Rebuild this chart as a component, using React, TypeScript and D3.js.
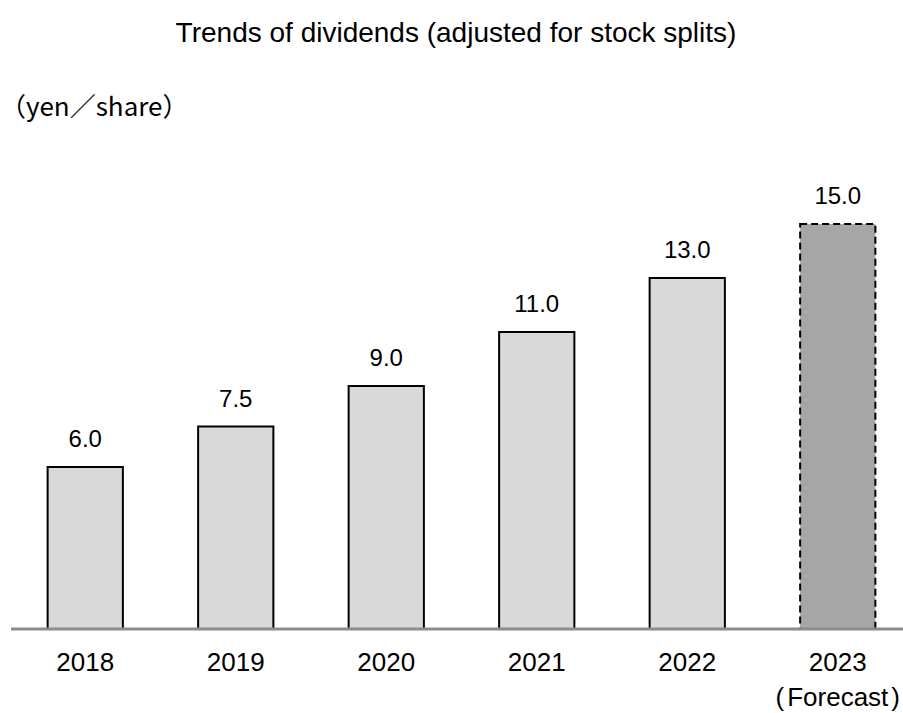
import React from "react";
import * as d3 from "d3";

const years = ["2018", "2019", "2020", "2021", "2022", "2023"];
const dividends = [6.0, 7.5, 9.0, 11.0, 13.0, 15.0];
const forecastFlags = [false, false, false, false, false, true];
const valueLabels = ["6.0", "7.5", "9.0", "11.0", "13.0", "15.0"];

const W = 903;
const H = 713;
const baseY = 629;
const SANS = "'Liberation Sans', Arial, sans-serif";
const CJK = "'Noto Sans CJK JP', 'Noto Sans', sans-serif";

export default function App() {
  const x = d3.scaleBand<string>().domain(years).range([10, 913]).paddingInner(0.5).paddingOuter(0.25);
  const y = d3.scaleLinear().domain([0, 15]).range([baseY, baseY - 405]);
  return (
    <svg width={W} height={H} style={{ position: "absolute", left: 0, top: 0, background: "#fff" }}>
      <text x={456} y={42} textAnchor="middle" fontFamily={SANS} fontSize={28} fill="#000">
        Trends of dividends (adjusted for stock splits)
      </text>
      <text x={0} y={116} fontFamily={CJK} fontSize={26} fill="#000">（yen／share）</text>
      {years.map((yr, i) => {
        const bx = x(yr)!;
        const bw = x.bandwidth();
        const top = y(dividends[i]);
        const fc = forecastFlags[i];
        return (
          <g key={yr}>
            <rect x={bx} y={top} width={bw} height={baseY - top}
              fill={fc ? "#a6a6a6" : "#d9d9d9"} stroke="#000" strokeWidth={2}
              strokeDasharray={fc ? "7,4" : undefined} />
            <text x={bx + bw / 2} y={top - 20} textAnchor="middle" fontFamily={SANS} fontSize={24} fill="#000">
              {valueLabels[i]}
            </text>
            <text x={bx + bw / 2} y={671} textAnchor="middle" fontFamily={SANS} fontSize={26} fill="#000">
              {yr}
            </text>
            {fc && (
              <text x={bx + bw / 2} y={706} textAnchor="middle" fontFamily={SANS} fontSize={26} fill="#000">
                <tspan>(</tspan>
                <tspan dx={3}>Forecast</tspan>
                <tspan dx={3}>)</tspan>
              </text>
            )}
          </g>
        );
      })}
      <line x1={11} x2={903} y1={baseY} y2={baseY} stroke="#8c8c8c" strokeWidth={3} />
    </svg>
  );
}
